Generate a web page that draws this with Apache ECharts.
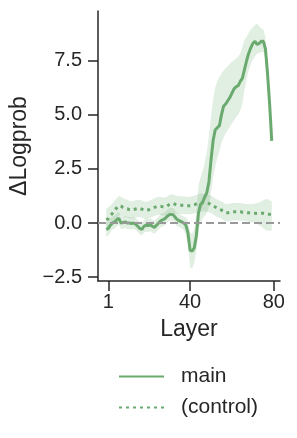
<!DOCTYPE html>
<html>
<head>
<meta charset="utf-8">
<script src="https://cdn.jsdelivr.net/npm/echarts@6/dist/echarts.min.js"></script>
<style>
html,body{margin:0;padding:0;background:#fff;}
#chart{width:297px;height:438px;}
</style>
</head>
<body>
<div id="chart"></div>
<script>
// Layer index (0..79), plotted against ticks 1 / 40 / 80
const layers = Array.from({length: 80}, (_, i) => i);
const xTicks = [1, 40, 80];
const yTicks = [-2.5, 0, 2.5, 5, 7.5];
const yTickLabels = ['\u22122.5', '0.0', '2.5', '5.0', '7.5'];

const mainVals = [
  -0.30,-0.25,-0.10,0.00,0.05,0.15,0.22,0.00,0.02,0.05,
  0.00,0.00,-0.02,0.00,-0.05,-0.15,-0.25,-0.30,-0.15,-0.10,
  -0.12,-0.08,-0.15,-0.20,-0.10,0.00,0.10,0.15,0.20,0.30,
  0.38,0.40,0.38,0.25,0.15,0.10,0.05,0.00,-0.10,-0.45,
  -1.25,-1.30,-1.15,-0.60,0.45,0.85,0.95,1.20,1.40,1.90,
  2.90,3.80,4.30,4.40,4.50,5.00,5.40,5.50,5.65,5.80,
  6.00,6.20,6.30,6.35,6.55,6.70,7.10,7.50,7.85,8.10,
  8.30,8.40,8.25,8.30,8.40,8.40,8.05,6.90,5.50,3.80
];
const mainLo = [
  -0.65,-0.58,-0.42,-0.30,-0.25,-0.15,-0.08,-0.28,-0.26,-0.24,
  -0.28,-0.28,-0.30,-0.28,-0.32,-0.42,-0.52,-0.58,-0.45,-0.40,
  -0.42,-0.38,-0.45,-0.50,-0.40,-0.30,-0.20,-0.15,-0.10,0.00,
  0.08,0.10,0.08,-0.05,-0.15,-0.20,-0.25,-0.32,-0.55,-1.00,
  -2.05,-2.10,-1.85,-1.30,-0.35,0.00,0.20,0.35,0.45,0.75,
  1.40,2.10,2.60,3.00,3.30,3.70,3.95,4.15,4.30,4.45,
  4.60,4.75,4.90,5.00,5.20,5.50,6.15,6.65,7.05,7.35,
  7.55,7.70,7.82,7.86,7.90,7.90,7.60,6.45,5.15,3.65
];
const mainHi = [
  0.05,0.08,0.22,0.30,0.35,0.45,0.52,0.30,0.30,0.32,
  0.28,0.28,0.26,0.28,0.24,0.14,0.04,0.00,0.14,0.20,
  0.18,0.22,0.15,0.10,0.20,0.30,0.40,0.45,0.50,0.60,
  0.68,0.70,0.68,0.55,0.45,0.40,0.35,0.30,0.25,0.10,
  -0.45,-0.50,-0.30,0.40,1.70,2.10,2.40,2.80,3.30,4.00,
  4.90,5.70,6.25,6.55,6.75,6.90,7.05,7.15,7.25,7.35,
  7.45,7.52,7.60,7.70,7.85,8.15,8.45,8.60,8.80,8.95,
  9.05,9.15,9.22,9.10,9.00,8.95,8.60,7.30,5.80,3.95
];
const ctrlVals = [
  0.15,0.20,0.35,0.45,0.60,0.70,0.80,0.78,0.72,0.68,
  0.66,0.62,0.60,0.62,0.65,0.68,0.68,0.64,0.60,0.58,
  0.60,0.65,0.68,0.72,0.76,0.78,0.77,0.75,0.75,0.78,
  0.85,0.90,0.90,0.86,0.83,0.82,0.82,0.82,0.80,0.80,
  0.80,0.82,0.84,0.88,0.92,0.94,0.94,0.93,0.92,0.90,
  0.86,0.80,0.74,0.68,0.64,0.60,0.54,0.48,0.47,0.50,
  0.52,0.52,0.52,0.52,0.52,0.50,0.49,0.48,0.47,0.46,
  0.45,0.45,0.44,0.44,0.45,0.45,0.44,0.42,0.40,0.38
];
const ctrlLo = [
  -0.30,-0.25,-0.10,0.02,0.15,0.25,0.35,0.34,0.30,0.27,
  0.25,0.22,0.20,0.22,0.25,0.28,0.28,0.24,0.20,0.18,
  0.20,0.25,0.28,0.32,0.36,0.38,0.37,0.35,0.35,0.38,
  0.44,0.48,0.48,0.44,0.42,0.42,0.42,0.42,0.40,0.40,
  0.40,0.42,0.44,0.48,0.52,0.54,0.54,0.53,0.52,0.50,
  0.46,0.40,0.34,0.28,0.24,0.20,0.14,0.08,0.07,0.10,
  0.12,0.12,0.12,0.12,0.12,0.10,0.09,0.08,0.06,0.04,
  0.02,0.00,-0.05,-0.10,-0.15,-0.25,-0.32,-0.36,-0.36,-0.34
];
const ctrlHi = [
  0.70,0.72,0.82,0.90,1.05,1.15,1.25,1.22,1.15,1.10,
  1.08,1.03,1.00,1.02,1.05,1.08,1.08,1.04,1.00,0.98,
  1.00,1.05,1.10,1.14,1.18,1.20,1.20,1.18,1.18,1.22,
  1.28,1.32,1.32,1.28,1.25,1.24,1.24,1.24,1.22,1.22,
  1.22,1.24,1.26,1.30,1.34,1.36,1.36,1.34,1.32,1.30,
  1.26,1.20,1.14,1.08,1.04,1.00,0.94,0.88,0.87,0.90,
  0.92,0.92,0.92,0.92,0.92,0.90,0.89,0.88,0.88,0.88,
  0.88,0.90,0.92,0.95,1.00,1.05,1.10,1.10,1.05,1.00
];

const GREEN = '#6aaa6e';
const BAND = 'rgba(106,170,110,0.2)';
const INK = '#262626';
const FONT = 'Liberation Sans, Arial, sans-serif';

function pairs(vals) { return layers.map((x, i) => [x, vals[i]]); }
function bandSeries(id, lo, hi) {
  return {
    name: id, type: 'custom', silent: true, z: 1, clip: true,
    data: [0],
    renderItem: (params, api) => {
      const pts = [];
      for (let i = 0; i < layers.length; i++) pts.push(api.coord([layers[i], hi[i]]));
      for (let i = layers.length - 1; i >= 0; i--) pts.push(api.coord([layers[i], lo[i]]));
      return { type: 'polygon', shape: { points: pts }, style: { fill: BAND, stroke: null } };
    }
  };
}

const chart = echarts.init(document.getElementById('chart'), null, { renderer: 'canvas' });
chart.setOption({
  animation: false,
  backgroundColor: '#fff',
  grid: { left: 98, right: 17, top: 11, bottom: 157, containLabel: false },
  xAxis: {
    type: 'value', min: -3.95, max: 82.95,
    name: 'Layer', nameLocation: 'middle', nameGap: 37,
    nameTextStyle: { fontFamily: FONT, fontSize: 23, color: INK },
    axisLine: { show: true, onZero: false, lineStyle: { color: INK, width: 1.5 } },
    axisTick: { show: true, length: 10, lineStyle: { color: INK, width: 1.5 }, customValues: xTicks },
    axisLabel: { fontFamily: FONT, fontSize: 20, color: INK, margin: 11, customValues: xTicks },
    splitLine: { show: false }
  },
  yAxis: {
    type: 'value', min: -2.68, max: 9.8,
    name: '\u0394Logprob', nameLocation: 'middle', nameGap: 59,
    nameTextStyle: { fontFamily: FONT, fontSize: 23, color: INK },
    axisLine: { show: true, onZero: false, lineStyle: { color: INK, width: 1.5 } },
    axisTick: { show: true, length: 10, lineStyle: { color: INK, width: 1.5 }, customValues: yTicks },
    axisLabel: { fontFamily: FONT, fontSize: 20, color: INK, margin: 16,
      customValues: yTicks,
      formatter: v => { const i = yTicks.findIndex(t => Math.abs(t - v) < 1e-6); return i >= 0 ? yTickLabels[i] : ''; } },
    splitLine: { show: false }
  },
  legend: {
    data: ['main', '(control)'],
    orient: 'vertical', left: 113, top: 361,
    itemWidth: 45, itemHeight: 14, itemGap: 10,
    itemStyle: { opacity: 0 },
    textStyle: { fontFamily: FONT, fontSize: 21, color: INK, lineHeight: 21, padding: [0, 0, 0, 12] }
  },
  series: [
    bandSeries('mb', mainLo, mainHi),
    bandSeries('cb', ctrlLo, ctrlHi),
    { name: 'main', type: 'line', data: pairs(mainVals), symbol: 'none', z: 3,
      color: GREEN, lineStyle: { color: GREEN, width: 3 },
      markLine: { silent: true, symbol: 'none', label: { show: false },
        lineStyle: { color: '#999999', type: [8, 4], width: 2 },
        data: [{ yAxis: 0 }] } },
    { name: '(control)', type: 'line', data: pairs(ctrlVals), symbol: 'none', z: 3,
      color: GREEN, lineStyle: { color: GREEN, width: 3, type: [3, 4] } }
  ]
});
</script>
</body>
</html>
